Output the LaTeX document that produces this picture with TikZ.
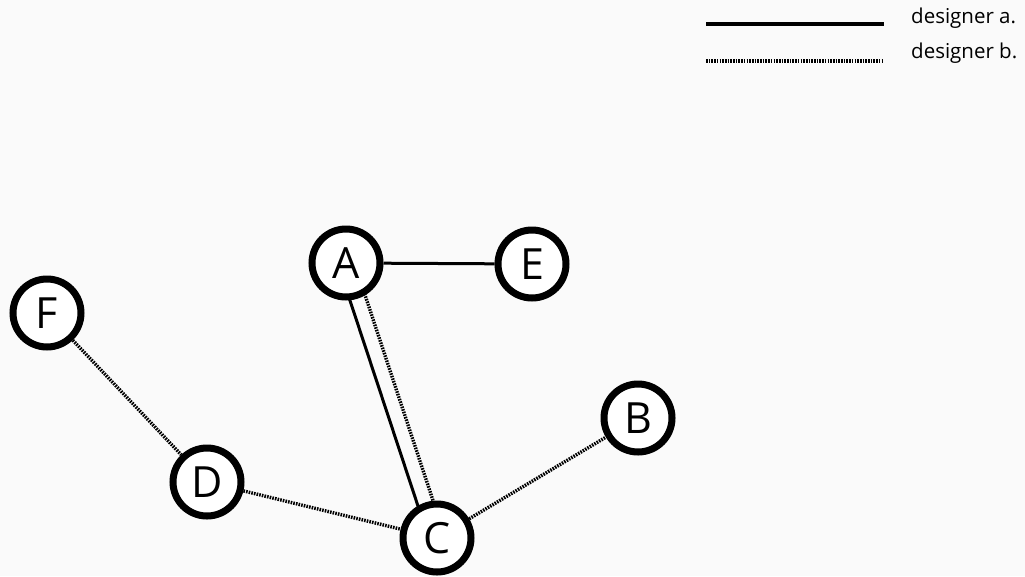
\documentclass[tikz,border=0pt]{standalone}
\usepackage{fontspec}
\setmainfont{Open Sans}
\usetikzlibrary{backgrounds}
\begin{document}
\begin{tikzpicture}[x=1pt,y=-1pt,
  vert/.style={circle,draw=black,line width=7pt,fill=white,minimum size=68pt,inner sep=0pt,font=\fontsize{43}{43}\selectfont},
  da/.style={line width=3pt},
  db/.style={line width=3.4pt,dash pattern=on 1.6pt off 1.1pt},
  lab/.style={anchor=west,font=\fontsize{20.5}{22}\selectfont,inner sep=0pt}]
% legend
\coordinate (la1) at (706,24); \coordinate (la2) at (884,24);
\coordinate (lb1) at (706,61); \coordinate (lb2) at (884,61);
\draw[line width=4pt] (la1) -- (la2);
\draw[db] (lb1) -- (lb2);
\node[lab] (ta) at (911,18) {designer a.};
\node[lab] (tb) at (911,53) {designer b.};
% nodes
\node[vert] (A) at (346,263) {A};
\node[vert] (E) at (532,264) {E};
\node[vert] (F) at (47,313) {F};
\node[vert] (D) at (207,482) {D};
\node[vert] (C) at (437,538) {C};
\node[vert] (B) at (638,418) {B};
% edges
\begin{scope}[on background layer]
\fill[gray!4] (0,0) rectangle (1025,576);
\draw[da] (A) -- (E);
\draw[da] ([xshift=-7.6pt,yshift=-2.5pt]A.center) -- ([xshift=-7.6pt,yshift=-2.5pt]C.center);
\draw[db] ([xshift=7.6pt,yshift=2.5pt]A.center) -- ([xshift=7.6pt,yshift=2.5pt]C.center);
\draw[db] (F) -- (D);
\draw[db] (D) -- (C);
\draw[db] (C) -- (B);
\end{scope}
\useasboundingbox (0,0) rectangle (1025,576);
\end{tikzpicture}
\end{document}
